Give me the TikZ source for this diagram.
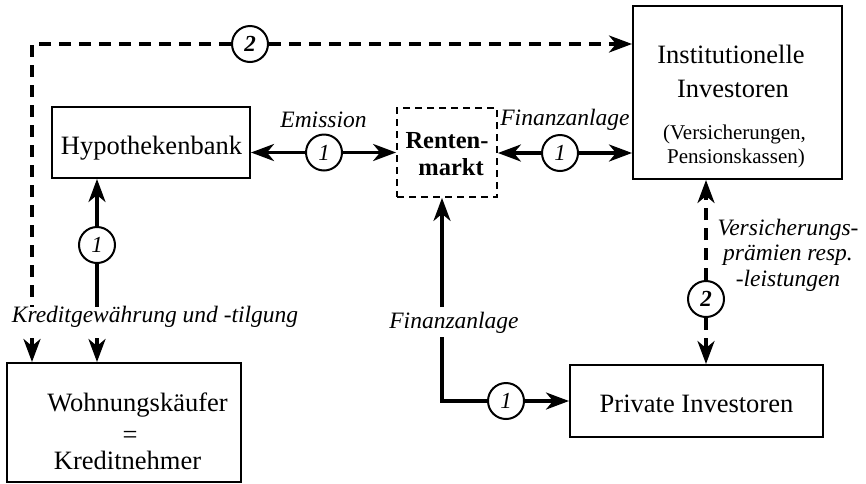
\documentclass[tikz,border=0pt]{standalone}
\usepackage{fontspec}
\setmainfont{Liberation Serif}
\usetikzlibrary{arrows.meta}
\begin{document}
\begin{tikzpicture}[x=1pt,y=-1pt,
  box/.style={draw, line width=2pt, inner sep=0pt},
  dbox/.style={draw, line width=1.8pt, dash pattern=on 7pt off 5pt, inner sep=0pt},
  tx/.style={anchor=base, inner sep=0pt, font=\fontsize{26.5}{30}\selectfont},
  sm/.style={anchor=base, inner sep=0pt, font=\fontsize{21}{24}\selectfont},
  bf/.style={anchor=base, inner sep=0pt, font=\fontsize{24.5}{28}\selectfont\bfseries},
  lab/.style={anchor=base, inner sep=0pt, font=\fontsize{23.5}{26}\selectfont\itshape},
  num/.style={draw, circle, line width=2pt, minimum size=36pt, inner sep=0pt, fill=white, font=\fontsize{23}{23}\selectfont\itshape},
  con/.style={line width=3.4pt},
  tip/.style={-{Stealth[length=23pt,width=17pt,inset=7pt]}},
  dsh/.style={dash pattern=on 12pt off 8pt}
]
\useasboundingbox (0,0) rectangle (866,483);

% boxes
\node[box, minimum width=198pt, minimum height=71pt] (hyp) at (151,142.5) {};
\node[dbox, minimum width=100pt, minimum height=89pt] (rent) at (447,152.5) {};
\node[box, minimum width=209pt, minimum height=173pt] (inst) at (737.5,92.5) {};
\node[box, minimum width=253pt, minimum height=72pt] (priv) at (696.5,401) {};
\node[box, minimum width=234pt, minimum height=119pt] (wohn) at (124,422.5) {};

% box texts
\node[tx] (hypT) at (151.5,154) {Hypothekenbank};
\node[bf] (rentA) at (447,148) {Renten-};
\node[bf] (rentB) at (451,175) {markt};
\node[tx] (instA) at (731,63) {Institutionelle};
\node[tx] (instB) at (733,97) {Investoren};
\node[sm] (instC) at (734.5,139) {(Versicherungen,};
\node[sm] (instD) at (736,163) {Pensionskassen)};
\node[tx] (privT) at (696.5,412) {Private Investoren};
\node[tx] (wohnA) at (137.5,411) {Wohnungskäufer};
\node[tx] (wohnB) at (130,443) {=};
\node[tx] (wohnC) at (127.5,469) {Kreditnehmer};

% labels
\node[lab] (em) at (323.5,127) {Emission};
\node[lab] (fa1) at (565,125) {Finanzanlage};
\node[lab] (kred) at (155,322) {Kreditgewährung und -tilgung};
\node[lab] (fa2) at (454,328) {Finanzanlage};
\node[lab] (v1) at (788,235) {Versicherungs-};
\node[lab] (v2) at (788,260) {prämien resp.};
\node[lab] (v3) at (788,286) {-leistungen};

% circles
\node[num] (c1) at (324,152.5) {1};
\node[num] (c2) at (560,153) {1};
\node[num] (c3) at (97,245) {1};
\node[num, font=\fontsize{23}{23}\selectfont\bfseries\itshape] (c4) at (250,44) {2};
\node[num] (c5) at (506,401) {1};
\node[num, font=\fontsize{23}{23}\selectfont\bfseries\itshape] (c6) at (706,299) {2};

% helper coordinates
\coordinate (tl) at (32,44);
\coordinate (kt) at (0,307);
\coordinate (kb) at (0,338);
\coordinate (corner) at (442,401);
\coordinate (ft) at (0,307);
\coordinate (fb) at (0,337);

% connectors
\draw[con,tip] (c1) -- (hyp.east |- c1);
\draw[con,tip] (c1) -- (rent.west |- c1);
\draw[con,tip] (c2) -- (rent.east |- c2);
\draw[con,tip] (c2) -- (inst.west |- c2);

\draw[con,tip] (c3) -- (c3 |- hyp.south);
\draw[con] (c3) -- (c3 |- kt);
\draw[con,tip] (c3 |- kb) -- (c3 |- wohn.north);

\draw[con,dsh] (c4) -- (tl) -- (tl |- kt);
\draw[con,dsh,tip] (c4) -- (inst.west |- c4);
\draw[con,dsh,tip] (tl |- kb) -- (tl |- wohn.north);

\draw[con,tip] (corner |- ft) -- (corner |- rent.south);
\draw[con] (corner |- fb) -- (corner) -- (c5);
\draw[con,tip] (c5) -- (priv.west |- c5);

\draw[con,dsh,tip] (c6) -- (c6 |- inst.south);
\draw[con,dsh,tip] (c6) -- (c6 |- priv.north);
\end{tikzpicture}
\end{document}
